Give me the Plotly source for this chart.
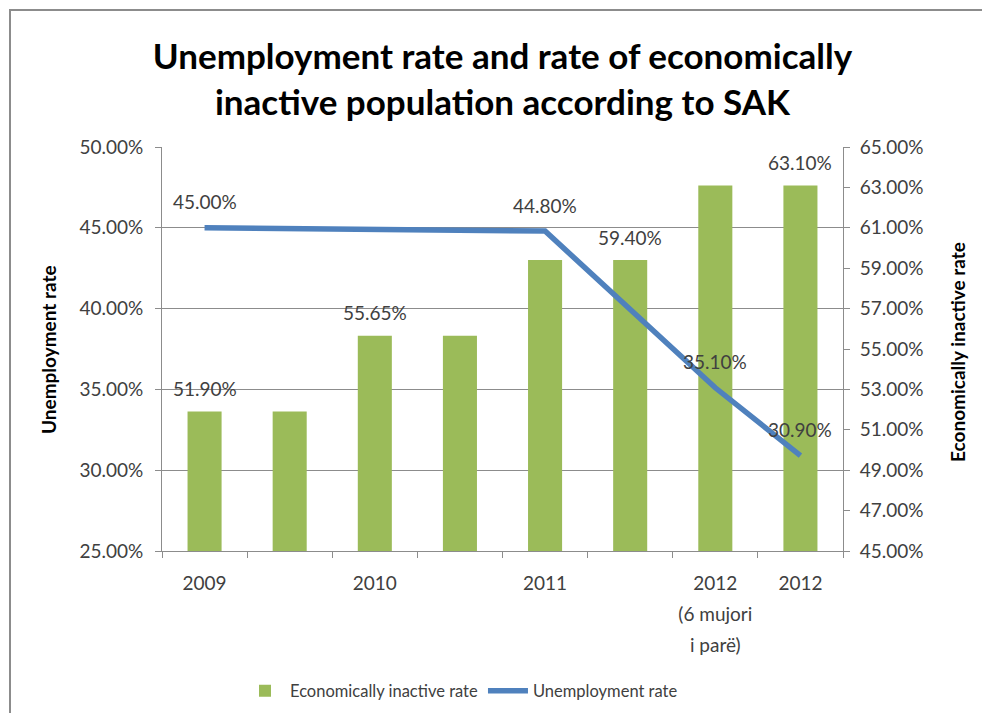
import plotly.graph_objects as go

# ---- data ----
categories = ["2009", " ", "2010", "  ", "2011", "   ", "2012<br>(6 mujori<br>i parë)", "2012"]
inactive_rate = [51.90, 51.90, 55.65, 55.65, 59.40, 59.40, 63.10, 63.10]
unemployment_rate = [45.00, None, None, None, 44.80, None, 35.10, 30.90]
bar_label_idx = [0, 2, 5, 7]
line_label_idx = [0, 4, 6, 7]

title_text = "Unemployment rate and rate of economically<br>inactive population according to SAK"

# ---- layout geometry ----
W, H = 982, 713
L, R, T, B = 162, 139, 147, 162
pw, ph = W - L - R, H - T - B

def px_x(x):
    return (x - L) / pw

def px_y(y):
    return (H - B - y) / ph

FONT = "Lato"
TICK_COLOR = "#404040"
GRID = "#8c8c8c"
TICK_SIZE = 19

# x tick text: same words, wider line spacing (base font larger, glyphs at TICK_SIZE)
x_ticktext = ["<br>".join(f"<span style='font-size:{TICK_SIZE}px'>{part}</span>"
                          for part in c.split("<br>")) for c in categories]

fig = go.Figure()

fig.add_trace(go.Bar(
    x=categories, y=inactive_rate, name="Economically inactive rate",
    marker=dict(color="#9BBB59", line=dict(width=0)),
    yaxis="y", width=0.4,
))
fig.add_trace(go.Scatter(
    x=categories, y=unemployment_rate, name="Unemployment rate",
    mode="lines", connectgaps=True,
    line=dict(color="#4F81BD", width=5.5),
    yaxis="y2",
))

annotations = []
for i in bar_label_idx:
    annotations.append(dict(
        x=i, y=inactive_rate[i], xref="x", yref="y",
        text=f"{inactive_rate[i]:.2f}%", showarrow=False, yshift=23,
        font=dict(family=FONT, size=TICK_SIZE, color=TICK_COLOR),
    ))
for i in line_label_idx:
    annotations.append(dict(
        x=i, y=unemployment_rate[i], xref="x", yref="y2",
        text=f"{unemployment_rate[i]:.2f}%", showarrow=False, yshift=26,
        font=dict(family=FONT, size=TICK_SIZE, color=TICK_COLOR),
    ))

annotations.append(dict(
    x=px_x(48), y=px_y(350), xref="paper", yref="paper",
    xanchor="center", yanchor="middle",
    text="<b>Unemployment rate</b>", textangle=-90, showarrow=False,
    font=dict(family=FONT, size=19, color="#000000"),
))
annotations.append(dict(
    x=px_x(957), y=px_y(352), xref="paper", yref="paper",
    xanchor="center", yanchor="middle",
    text="<b>Economically inactive rate</b>", textangle=-90, showarrow=False,
    font=dict(family=FONT, size=19, color="#000000"),
))

fig.update_layout(
    width=W, height=H,
    margin=dict(l=L, r=R, t=T, b=B),
    paper_bgcolor="white", plot_bgcolor="white",
    title=dict(
        text=f"<b>{title_text}</b>", x=0.5, xref="paper",
        y=1 - 69 / H, yref="container", yanchor="middle", xanchor="center",
        font=dict(family=FONT, size=35, color="#000000"),
    ),
    xaxis=dict(
        type="category", tickson="boundaries", ticks="outside", ticklen=6,
        tickcolor=GRID, showline=True, linecolor=GRID, linewidth=1,
        tickmode="array", tickvals=categories, ticktext=x_ticktext,
        tickfont=dict(family=FONT, size=24, color=TICK_COLOR),
        ticklabelstandoff=9, automargin=False,
        showgrid=False, range=[-0.5, 7.5],
    ),
    yaxis=dict(
        side="right", range=[45, 65], dtick=2, tick0=45,
        tickformat=".2f", ticksuffix="%", ticks="outside", ticklen=6,
        tickcolor=GRID, showline=True, linecolor=GRID, linewidth=1,
        showgrid=False, zeroline=False, ticklabelstandoff=6, automargin=False,
        tickfont=dict(family=FONT, size=TICK_SIZE, color=TICK_COLOR),
    ),
    yaxis2=dict(
        side="left", overlaying="y", range=[25, 50], dtick=5, tick0=25,
        tickformat=".2f", ticksuffix="%", ticks="outside", ticklen=6,
        tickcolor=GRID, showline=True, linecolor=GRID, linewidth=1,
        showgrid=True, gridcolor=GRID, gridwidth=1, zeroline=False,
        ticklabelstandoff=8, automargin=False,
        tickfont=dict(family=FONT, size=TICK_SIZE, color=TICK_COLOR),
    ),
    legend=dict(
        orientation="h", x=px_x(240), xref="paper",
        y=1 - 691 / H, yref="container", xanchor="left", yanchor="middle",
        font=dict(family=FONT, size=16.5, color=TICK_COLOR),
        bgcolor="rgba(0,0,0,0)", itemwidth=40,
    ),
    annotations=annotations,
    shapes=[dict(
        type="rect", xref="paper", yref="paper",
        x0=px_x(10), x1=px_x(1000), y0=px_y(740), y1=px_y(10),
        line=dict(color="#8c8c8c", width=2), layer="below",
    )],
)

fig.write_html("out.html")
